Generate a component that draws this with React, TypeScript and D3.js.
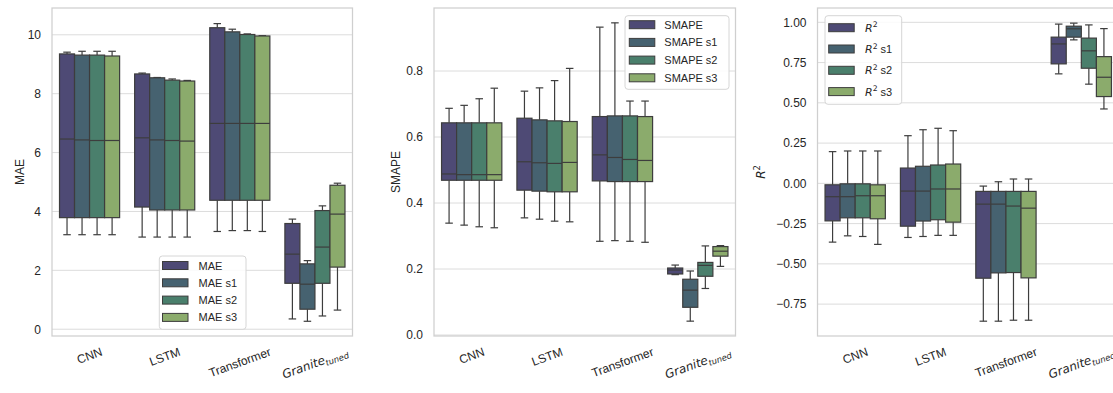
import React, { useEffect, useRef } from "react";
import * as d3 from "d3";

// ---------------- data ----------------
const categories = ["CNN", "LSTM", "Transformer", "Granite"];
const palette = ["#4e4a75", "#466270", "#4a7f6c", "#8bab6c"];

const maeSeries = ["MAE", "MAE s1", "MAE s2", "MAE s3"];
const maeTicks = [0, 2, 4, 6, 8, 10];
// rows = series, cols = categories
const maeLow = [
  [3.21, 3.13, 3.32, 0.35],
  [3.21, 3.13, 3.35, 0.27],
  [3.21, 3.13, 3.35, 0.45],
  [3.21, 3.13, 3.32, 0.65],
];
const maeQ1 = [
  [3.79, 4.15, 4.38, 1.56],
  [3.79, 4.05, 4.38, 0.68],
  [3.79, 4.05, 4.38, 1.56],
  [3.79, 4.05, 4.38, 2.11],
];
const maeMed = [
  [6.46, 6.5, 6.99, 2.55],
  [6.43, 6.43, 6.99, 1.53],
  [6.41, 6.41, 6.99, 2.79],
  [6.41, 6.39, 6.99, 3.91],
];
const maeQ3 = [
  [9.35, 8.67, 10.24, 3.59],
  [9.31, 8.54, 10.1, 2.22],
  [9.31, 8.46, 10.01, 4.03],
  [9.28, 8.43, 9.96, 4.89],
];
const maeHigh = [
  [9.41, 8.7, 10.38, 3.74],
  [9.44, 8.55, 10.19, 2.33],
  [9.44, 8.5, 10.03, 4.19],
  [9.44, 8.45, 9.97, 4.96],
];

const smapeSeries = ["SMAPE", "SMAPE s1", "SMAPE s2", "SMAPE s3"];
const smapeTicks = [0, 0.2, 0.4, 0.6, 0.8];
const smapeLow = [
  [0.339, 0.355, 0.284, 0.183],
  [0.333, 0.351, 0.286, 0.042],
  [0.328, 0.345, 0.284, 0.141],
  [0.325, 0.343, 0.281, 0.208],
];
const smapeQ1 = [
  [0.469, 0.439, 0.467, 0.185],
  [0.469, 0.436, 0.465, 0.084],
  [0.469, 0.434, 0.465, 0.178],
  [0.469, 0.434, 0.465, 0.239],
];
const smapeMed = [
  [0.488, 0.525, 0.546, 0.197],
  [0.486, 0.522, 0.538, 0.136],
  [0.486, 0.52, 0.532, 0.211],
  [0.486, 0.523, 0.529, 0.254],
];
const smapeQ3 = [
  [0.643, 0.657, 0.662, 0.203],
  [0.643, 0.652, 0.664, 0.169],
  [0.643, 0.649, 0.664, 0.22],
  [0.643, 0.647, 0.662, 0.268],
];
const smapeHigh = [
  [0.687, 0.739, 0.933, 0.212],
  [0.696, 0.749, 0.946, 0.194],
  [0.716, 0.771, 0.709, 0.27],
  [0.748, 0.808, 0.709, 0.271],
];

const r2Series = ["R^2", "R^2 s1", "R^2 s2", "R^2 s3"];
const r2Ticks = [-0.75, -0.5, -0.25, 0, 0.25, 0.5, 0.75, 1.0];
const r2Low = [
  [-0.365, -0.336, -0.856, 0.68],
  [-0.326, -0.33, -0.856, 0.891],
  [-0.33, -0.323, -0.85, 0.616],
  [-0.379, -0.323, -0.85, 0.462],
];
const r2Q1 = [
  [-0.233, -0.266, -0.589, 0.742],
  [-0.214, -0.234, -0.556, 0.908],
  [-0.214, -0.226, -0.554, 0.715],
  [-0.22, -0.241, -0.587, 0.539],
];
const r2Med = [
  [-0.083, -0.048, -0.129, 0.866],
  [-0.083, -0.048, -0.129, 0.96],
  [-0.077, -0.035, -0.141, 0.823],
  [-0.077, -0.035, -0.154, 0.659],
];
const r2Q3 = [
  [-0.009, 0.095, -0.05, 0.908],
  [-0.003, 0.106, -0.05, 0.976],
  [-0.003, 0.114, -0.05, 0.902],
  [-0.009, 0.12, -0.05, 0.787],
];
const r2High = [
  [0.197, 0.296, -0.017, 0.989],
  [0.201, 0.333, 0.01, 0.995],
  [0.201, 0.342, 0.027, 0.984],
  [0.201, 0.327, 0.027, 0.961],
];

// ---------------- layout / style ----------------
const W = 1113;
const H = 393;
const TOP = 8;
const BOTTOM = 336;
const FONT = "'Liberation Sans', Arial, sans-serif";
const MATHFONT = "'DejaVu Sans', sans-serif";
const TEXT = "#262626";
const LINE = "#3d3d3d";

type PanelCfg = {
  x0: number;
  x1: number;
  domain: [number, number];
  ticks: number[];
  fmt: (v: number) => string;
  label: string;
  labelX: number;
  series: string[];
  low: number[][];
  q1: number[][];
  med: number[][];
  q3: number[][];
  high: number[][];
  legend: { x: number; y: number; w: number; h: number; row0: number; step: number; patchX: number; textX: number };
};

const panels: PanelCfg[] = [
  {
    x0: 52, x1: 352.5, domain: [-0.23, 10.91], ticks: maeTicks, fmt: d3.format("d"),
    label: "MAE", labelX: 24, series: maeSeries,
    low: maeLow, q1: maeQ1, med: maeMed, q3: maeQ3, high: maeHigh,
    legend: { x: 159.3, y: 256, w: 86.7, h: 73.3, row0: 265.5, step: 17.3, patchX: 162.5, textX: 198.5 },
  },
  {
    x0: 434, x1: 735.5, domain: [-0.003, 0.991], ticks: smapeTicks, fmt: d3.format(".1f"),
    label: "SMAPE", labelX: 399.5, series: smapeSeries,
    low: smapeLow, q1: smapeQ1, med: smapeMed, q3: smapeQ3, high: smapeHigh,
    legend: { x: 625, y: 15.7, w: 104, h: 73.6, row0: 24.7, step: 17.7, patchX: 629.3, textX: 664.3 },
  },
  {
    x0: 817.5, x1: 1119, domain: [-0.948, 1.089], ticks: r2Ticks, fmt: d3.format(".2f"),
    label: "R^2", labelX: 765, series: r2Series,
    low: r2Low, q1: r2Q1, med: r2Med, q3: r2Q3, high: r2High,
    legend: { x: 825, y: 15.7, w: 76.7, h: 88.6, row0: 27.7, step: 21.3, patchX: 828.7, textX: 865 },
  },
];

function writeRich(sel: any, label: string, size: number) {
  if (label.startsWith("R^2")) {
    sel.append("tspan").attr("font-family", MATHFONT).attr("font-style", "italic").text("R");
    sel.append("tspan").attr("font-family", MATHFONT).attr("font-size", size * 0.7).attr("dy", -size * 0.4).text("2");
    const rest = label.slice(3);
    if (rest.length) sel.append("tspan").attr("dy", size * 0.4).text(rest);
    else sel.append("tspan").attr("dy", size * 0.4).text("");
  } else {
    sel.text(label);
  }
}

export default function App() {
  const ref = useRef<SVGSVGElement | null>(null);

  useEffect(() => {
    const svg = d3.select(ref.current);
    svg.selectAll("*").remove();

    panels.forEach((p) => {
      const g = svg.append("g");
      const x = d3.scaleBand<string>().domain(categories).range([p.x0, p.x1]).padding(0);
      const bw = x.bandwidth();
      const inner = d3.scaleBand<number>().domain(d3.range(p.series.length)).range([0.1 * bw, 0.9 * bw]).padding(0);
      const y = d3.scaleLinear().domain(p.domain).range([BOTTOM, TOP]);

      // grid
      g.selectAll(".grid")
        .data(p.ticks)
        .join("line")
        .attr("x1", p.x0)
        .attr("x2", p.x1)
        .attr("y1", (d) => y(d))
        .attr("y2", (d) => y(d))
        .attr("stroke", "#dcdcdc")
        .attr("stroke-width", 1);

      // y tick labels
      g.selectAll(".ytl")
        .data(p.ticks)
        .join("text")
        .attr("x", p.x0 - 11)
        .attr("y", (d) => y(d) + 4.3)
        .attr("text-anchor", "end")
        .attr("font-family", FONT)
        .attr("font-size", 12)
        .attr("fill", TEXT)
        .text((d) => p.fmt(d));

      // boxes
      p.series.forEach((_, s) => {
        categories.forEach((c, ci) => {
          const bx = (x(c) as number) + (inner(s) as number);
          const w = inner.bandwidth();
          const cx = bx + w / 2;
          const cap = w / 4;
          const lo = p.low[s][ci], q1 = p.q1[s][ci], md = p.med[s][ci], q3 = p.q3[s][ci], hi = p.high[s][ci];
          const bg = g.append("g");
          bg.append("line").attr("x1", cx).attr("x2", cx).attr("y1", y(q3)).attr("y2", y(hi)).attr("stroke", LINE).attr("stroke-width", 1.2);
          bg.append("line").attr("x1", cx).attr("x2", cx).attr("y1", y(q1)).attr("y2", y(lo)).attr("stroke", LINE).attr("stroke-width", 1.2);
          bg.append("line").attr("x1", cx - cap).attr("x2", cx + cap).attr("y1", y(hi)).attr("y2", y(hi)).attr("stroke", LINE).attr("stroke-width", 1.2);
          bg.append("line").attr("x1", cx - cap).attr("x2", cx + cap).attr("y1", y(lo)).attr("y2", y(lo)).attr("stroke", LINE).attr("stroke-width", 1.2);
          bg.append("rect")
            .attr("x", bx)
            .attr("y", y(q3))
            .attr("width", w)
            .attr("height", Math.max(0.5, y(q1) - y(q3)))
            .attr("fill", palette[s])
            .attr("stroke", LINE)
            .attr("stroke-width", 1.2);
          bg.append("line").attr("x1", bx).attr("x2", bx + w).attr("y1", y(md)).attr("y2", y(md)).attr("stroke", LINE).attr("stroke-width", 1.2);
        });
      });

      // spines
      g.append("rect")
        .attr("x", p.x0)
        .attr("y", TOP)
        .attr("width", p.x1 - p.x0)
        .attr("height", BOTTOM - TOP)
        .attr("fill", "none")
        .attr("stroke", "#cfcfcf")
        .attr("stroke-width", 1.25);

      // x tick labels (rotated 20deg, top-aligned)
      const ang = (20 * Math.PI) / 180;
      categories.forEach((c) => {
        const cx = (x(c) as number) + bw / 2;
        const t = g.append("text")
          .attr("font-family", FONT)
          .attr("font-size", 12)
          .attr("fill", TEXT)
          .attr("text-anchor", "middle");
        if (c === "Granite") {
          t.append("tspan").attr("font-family", MATHFONT).attr("font-style", "italic").text("Granite");
          t.append("tspan").attr("font-family", MATHFONT).attr("font-style", "italic").attr("font-size", 8.4).attr("dy", 2.5).text("tuned");
        } else {
          t.text(c);
        }
        const bb = (t.node() as SVGTextElement).getBBox();
        const wText = bb.width;
        const capH = 8.6;
        const cy = 347 + (wText * Math.sin(ang) + capH * Math.cos(ang)) / 2;
        t.attr("x", 0).attr("y", capH / 2).attr("transform", `translate(${cx},${cy}) rotate(-20)`);
      });

      // y label
      const yl = g.append("text")
        .attr("transform", `translate(${p.labelX},${(TOP + BOTTOM) / 2}) rotate(-90)`)
        .attr("text-anchor", "middle")
        .attr("font-family", FONT)
        .attr("font-size", 12)
        .attr("fill", TEXT);
      writeRich(yl, p.label, 12);

      // legend
      const L = p.legend;
      g.append("rect")
        .attr("x", L.x)
        .attr("y", L.y)
        .attr("width", L.w)
        .attr("height", L.h)
        .attr("rx", 3)
        .attr("fill", "white")
        .attr("fill-opacity", 0.85)
        .attr("stroke", "#d6d6d6")
        .attr("stroke-width", 1);
      p.series.forEach((name, s) => {
        const cy = L.row0 + s * L.step;
        g.append("rect")
          .attr("x", L.patchX)
          .attr("y", cy - 4)
          .attr("width", 25.5)
          .attr("height", 8)
          .attr("fill", palette[s])
          .attr("stroke", LINE)
          .attr("stroke-width", 1);
        const lt = g.append("text")
          .attr("x", L.textX)
          .attr("y", cy + 4)
          .attr("font-family", FONT)
          .attr("font-size", 11)
          .attr("fill", TEXT);
        writeRich(lt, name, 11);
      });
    });
  }, []);

  return (
    <svg
      ref={ref}
      width={W}
      height={H}
      style={{ position: "absolute", left: 0, top: 0, background: "white" }}
    />
  );
}
